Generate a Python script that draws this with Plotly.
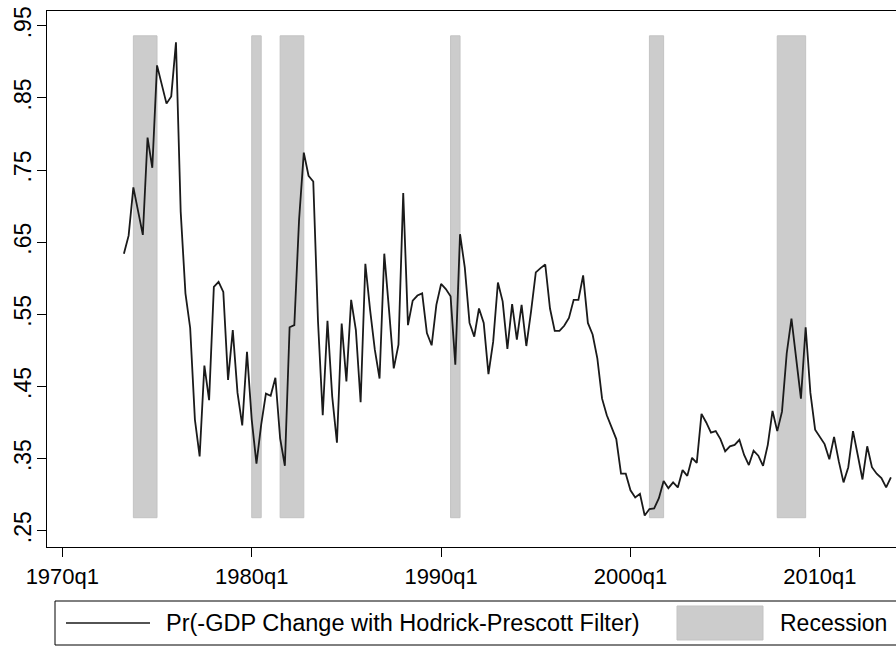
import plotly.graph_objects as go

# ---- data -------------------------------------------------------------
start_year = 1973
start_quarter = 2  # first observation: 1973q2
prob_values = [
    .634, .659, .726, .692, .660, .795, .753, .895, .868, .842,
    .852, .927, .692, .579, .531, .404, .353, .479, .431, .588,
    .595, .581, .459, .528, .441, .396, .498, .404, .343, .397,
    .440, .437, .462, .378, .340, .532, .535, .681, .774, .742,
    .734, .540, .410, .541, .436, .372, .537, .457, .570, .528,
    .428, .620, .556, .501, .461, .634, .556, .475, .508, .718,
    .535, .569, .576, .579, .524, .507, .563, .592, .585, .575,
    .480, .661, .615, .538, .519, .558, .538, .467, .512, .594,
    .568, .502, .564, .515, .563, .506, .554, .608, .614, .619,
    .558, .527, .527, .534, .545, .570, .570, .604, .538, .522,
    .489, .433, .410, .392, .377, .329, .329, .306, .296, .301,
    .271, .280, .281, .295, .319, .309, .317, .310, .334, .326,
    .351, .344, .412, .400, .386, .388, .377, .360, .367, .369,
    .376, .355, .341, .361, .354, .340, .369, .416, .388, .415,
    .496, .544, .489, .433, .532, .441, .390, .380, .370, .349,
    .380, .346, .317, .338, .388, .355, .321, .367, .338, .329,
    .323, .310, .324,
]
recession_starts = ["1973q4", "1980q1", "1981q3", "1990q3", "2001q1", "2007q4"]
recession_ends = ["1975q1", "1980q3", "1982q4", "1991q1", "2001q4", "2009q2"]
recession_low = 0.268
recession_high = 0.936

x_tick_years = [1970, 1980, 1990, 2000, 2010]
x_tick_labels = ["1970q1", "1980q1", "1990q1", "2000q1", "2010q1"]
y_tick_vals = [.25, .35, .45, .55, .65, .75, .85, .95]
y_tick_labels = [".25", ".35", ".45", ".55", ".65", ".75", ".85", ".95"]

series_name = "Pr(-GDP Change with Hodrick-Prescott Filter)"
band_name = "Recession"


def q2num(s):
    y, q = s.split("q")
    return int(y) + (int(q) - 1) / 4.0


x_vals = [start_year + (start_quarter - 1) / 4.0 + k / 4.0 for k in range(len(prob_values))]

FONT = "Liberation Sans, Arial, Helvetica, sans-serif"
W, H = 896, 646
ML, MT, MB, MR = 47, 11, 99, 0

fig = go.Figure()

# recession bands (data coordinates)
for s, e in zip(recession_starts, recession_ends):
    fig.add_shape(type="rect", xref="x", yref="y",
                  x0=q2num(s), x1=q2num(e), y0=recession_low, y1=recession_high,
                  fillcolor="#cccccc", line=dict(color="#c3c3c3", width=1),
                  layer="below")

fig.add_trace(go.Scatter(x=x_vals, y=prob_values, mode="lines", name=series_name,
                         line=dict(color="#1a1a1a", width=1.8), showlegend=False,
                         hoverinfo="skip"))

fig.update_layout(
    width=W, height=H,
    margin=dict(l=ML, r=MR, t=MT, b=MB, pad=0),
    paper_bgcolor="white", plot_bgcolor="white",
    font=dict(family=FONT, size=22, color="black"),
    showlegend=False,
    xaxis=dict(range=[1969.19, 2014.02], tickvals=x_tick_years, ticktext=x_tick_labels,
               ticks="outside", ticklen=9, tickwidth=1, tickcolor="black",
               showline=True, linecolor="black", linewidth=1.2, mirror=True,
               showgrid=False, zeroline=False,
               tickfont=dict(family=FONT, size=22, color="black")),
    yaxis=dict(range=[0.2274, 0.9704], tickvals=y_tick_vals, ticktext=y_tick_labels,
               ticks="outside", ticklen=9, tickwidth=1, tickcolor="black",
               tickangle=-90, ticklabelstandoff=-3,
               showline=True, linecolor="black", linewidth=1.2, mirror=False,
               showgrid=False, zeroline=False,
               tickfont=dict(family=FONT, size=23, color="black")),
)

# ---- manual legend (paper coordinates) ----
pw = W - ML - MR
ph = H - MT - MB


def px(x):
    return (x - ML) / pw


def py(y):
    return (H - MB - y) / ph


fig.add_shape(type="rect", xref="paper", yref="paper",
              x0=px(55), x1=px(910), y0=py(645), y1=py(601),
              line=dict(color="black", width=1), fillcolor="rgba(0,0,0,0)")
fig.add_shape(type="line", xref="paper", yref="paper",
              x0=px(66), x1=px(150), y0=py(623), y1=py(623),
              line=dict(color="#1a1a1a", width=1.7))
fig.add_annotation(xref="paper", yref="paper", x=px(164), y=py(623),
                   text=series_name, showarrow=False, xanchor="left", yanchor="middle",
                   font=dict(family=FONT, size=23.5, color="black"))
fig.add_shape(type="rect", xref="paper", yref="paper",
              x0=px(677), x1=px(763), y0=py(640), y1=py(606),
              fillcolor="#cccccc", line=dict(color="#c3c3c3", width=1))
fig.add_annotation(xref="paper", yref="paper", x=px(778), y=py(623),
                   text=band_name, showarrow=False, xanchor="left", yanchor="middle",
                   font=dict(family=FONT, size=23, color="black"))

fig.write_html("out.html", config={"displayModeBar": False},
               post_script="document.body.style.margin='0';document.body.style.overflow='hidden';")
